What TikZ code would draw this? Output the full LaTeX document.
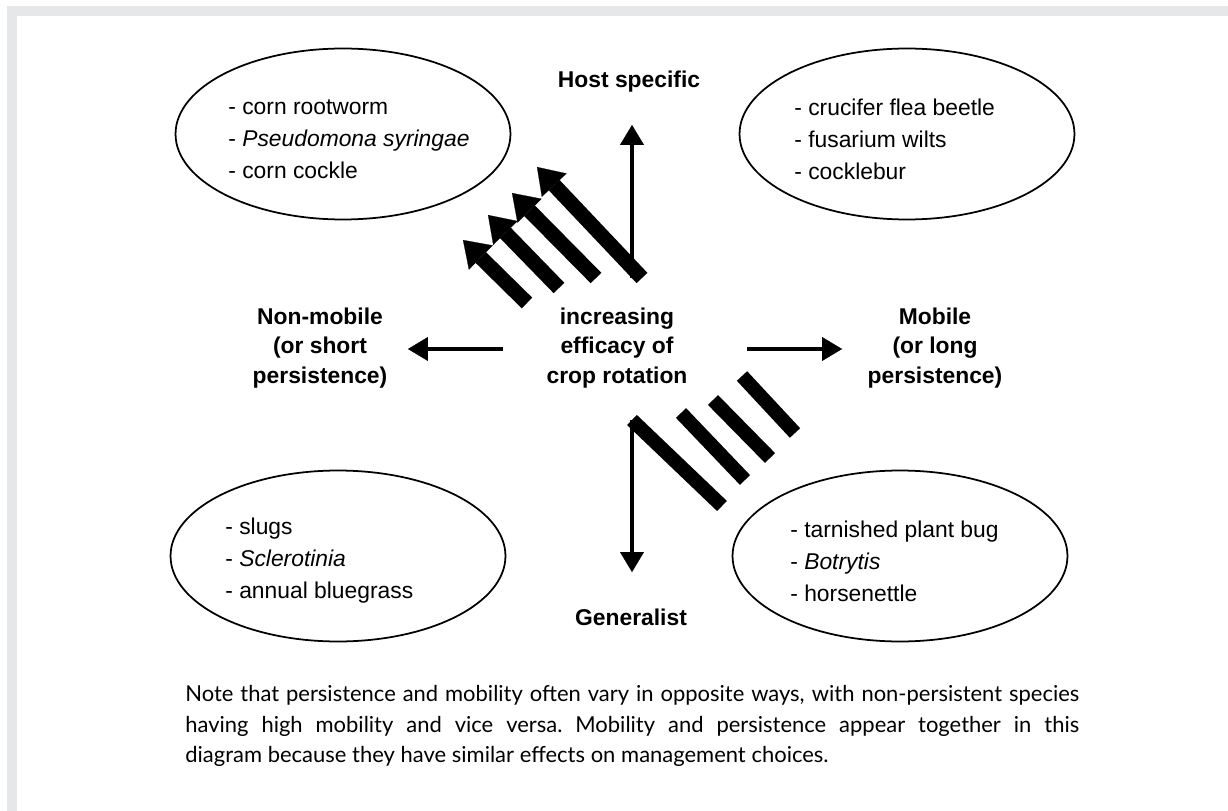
\documentclass[tikz,border=0pt]{standalone}
\usepackage{fontspec}
\setmainfont{Liberation Sans}
\newfontfamily\notefont{Lato}
\usetikzlibrary{arrows.meta,shapes.geometric}

\definecolor{framegrey}{RGB}{230,231,232}

\tikzset{
  blob/.style={draw, ellipse, line width=1pt, minimum width=6.7cm, minimum height=3.42cm, inner sep=0pt},
  list/.style={anchor=west, align=left, inner sep=0pt, font=\fontsize{13}{18.2}\selectfont},
  tag/.style={align=center, inner sep=0pt, font=\fontsize{13}{17}\selectfont\bfseries},
  slim/.style={line width=1.9pt, -{Triangle[length=4mm, width=4.8mm, line width=0.1pt]}},
  fat/.style={line width=8.5pt, -{Triangle[length=5mm, width=6.8mm, line width=0.1pt]}},
  bar/.style={line width=8pt}
}

\begin{document}
\begin{tikzpicture}[x=0.02cm, y=-0.02cm]

     \useasboundingbox (0,0) rectangle (1228,811);
     \fill[framegrey] (7,6) rectangle (1228,16);
     \fill[framegrey] (7,6) rectangle (17,811);

     \node[blob] (Ell1) at (343,134) {};
     \node[blob] (Ell2) at (907,134) {};
     \node[blob] (Ell3) at (338,556) {};
     \node[blob] (Ell4) at (900,556) {};

     \node[list] (List1) at (228,139) {- corn rootworm\\- \textit{Pseudomona syringae}\\- corn cockle};
     \node[list] (List2) at (794,139) {- crucifer flea beetle\\- fusarium wilts\\- cocklebur};
     \node[list] (List3) at (225,561) {- slugs\\- \textit{Sclerotinia}\\- annual bluegrass};
     \node[list] (List4) at (790,561) {- tarnished plant bug\\- \textit{Botrytis}\\- horsenettle};

     \node[tag] (Host) at (629,82) {Host specific};
     \node[tag] (Gen) at (631,617) {Generalist};
     \node[tag] (NonMob) at (320,348) {Non-mobile\\(or short\\persistence)};
     \node[tag] (Mob) at (935,348) {Mobile\\(or long\\persistence)};
     \node[tag] (Mid) at (617,348) {increasing\\efficacy of\\crop rotation};

     \coordinate (u0) at (632,278);
     \coordinate (u1) at (632,125);
     \coordinate (d0) at (632,420);
     \coordinate (d1) at (632,572);
     \coordinate (l0) at (503,349);
     \coordinate (l1) at (408,349);
     \coordinate (r0) at (747,349);
     \coordinate (r1) at (842,349);

     \draw[slim] (u0) -- (u1);
     \draw[slim] (d0) -- (d1);
     \draw[slim] (l0) -- (l1);
     \draw[slim] (r0) -- (r1);

     % striped arrows and bars
     \foreach \a/\b/\c/\d in {642/278/537/167, 596/278/512/193, 559/288/488/215, 527/303/463/240}
        \draw[fat] (\a,\b) -- (\c,\d);
     \foreach \a/\b/\c/\d in {632/420/722/506, 681/413/745/480, 713/400/770/458, 742/376/795/433}
        \draw[bar] (\a,\b) -- (\c,\d);

     \node[anchor=north west, inner sep=0pt, text width=17.88cm, font=\notefont\fontsize{12.5}{17.4}\selectfont] (Note) at (185,685)
        {\spaceskip=0.26em plus 1em minus 0.06em\xspaceskip=\spaceskip
         \makebox[17.88cm][s]{Note that persistence and mobility often vary in opposite ways, with non-persistent species}\\
         \makebox[17.88cm][s]{having high mobility and vice versa. Mobility and persistence appear together in this}\\
         diagram because they have similar effects on management choices.};

\end{tikzpicture}
\end{document}
